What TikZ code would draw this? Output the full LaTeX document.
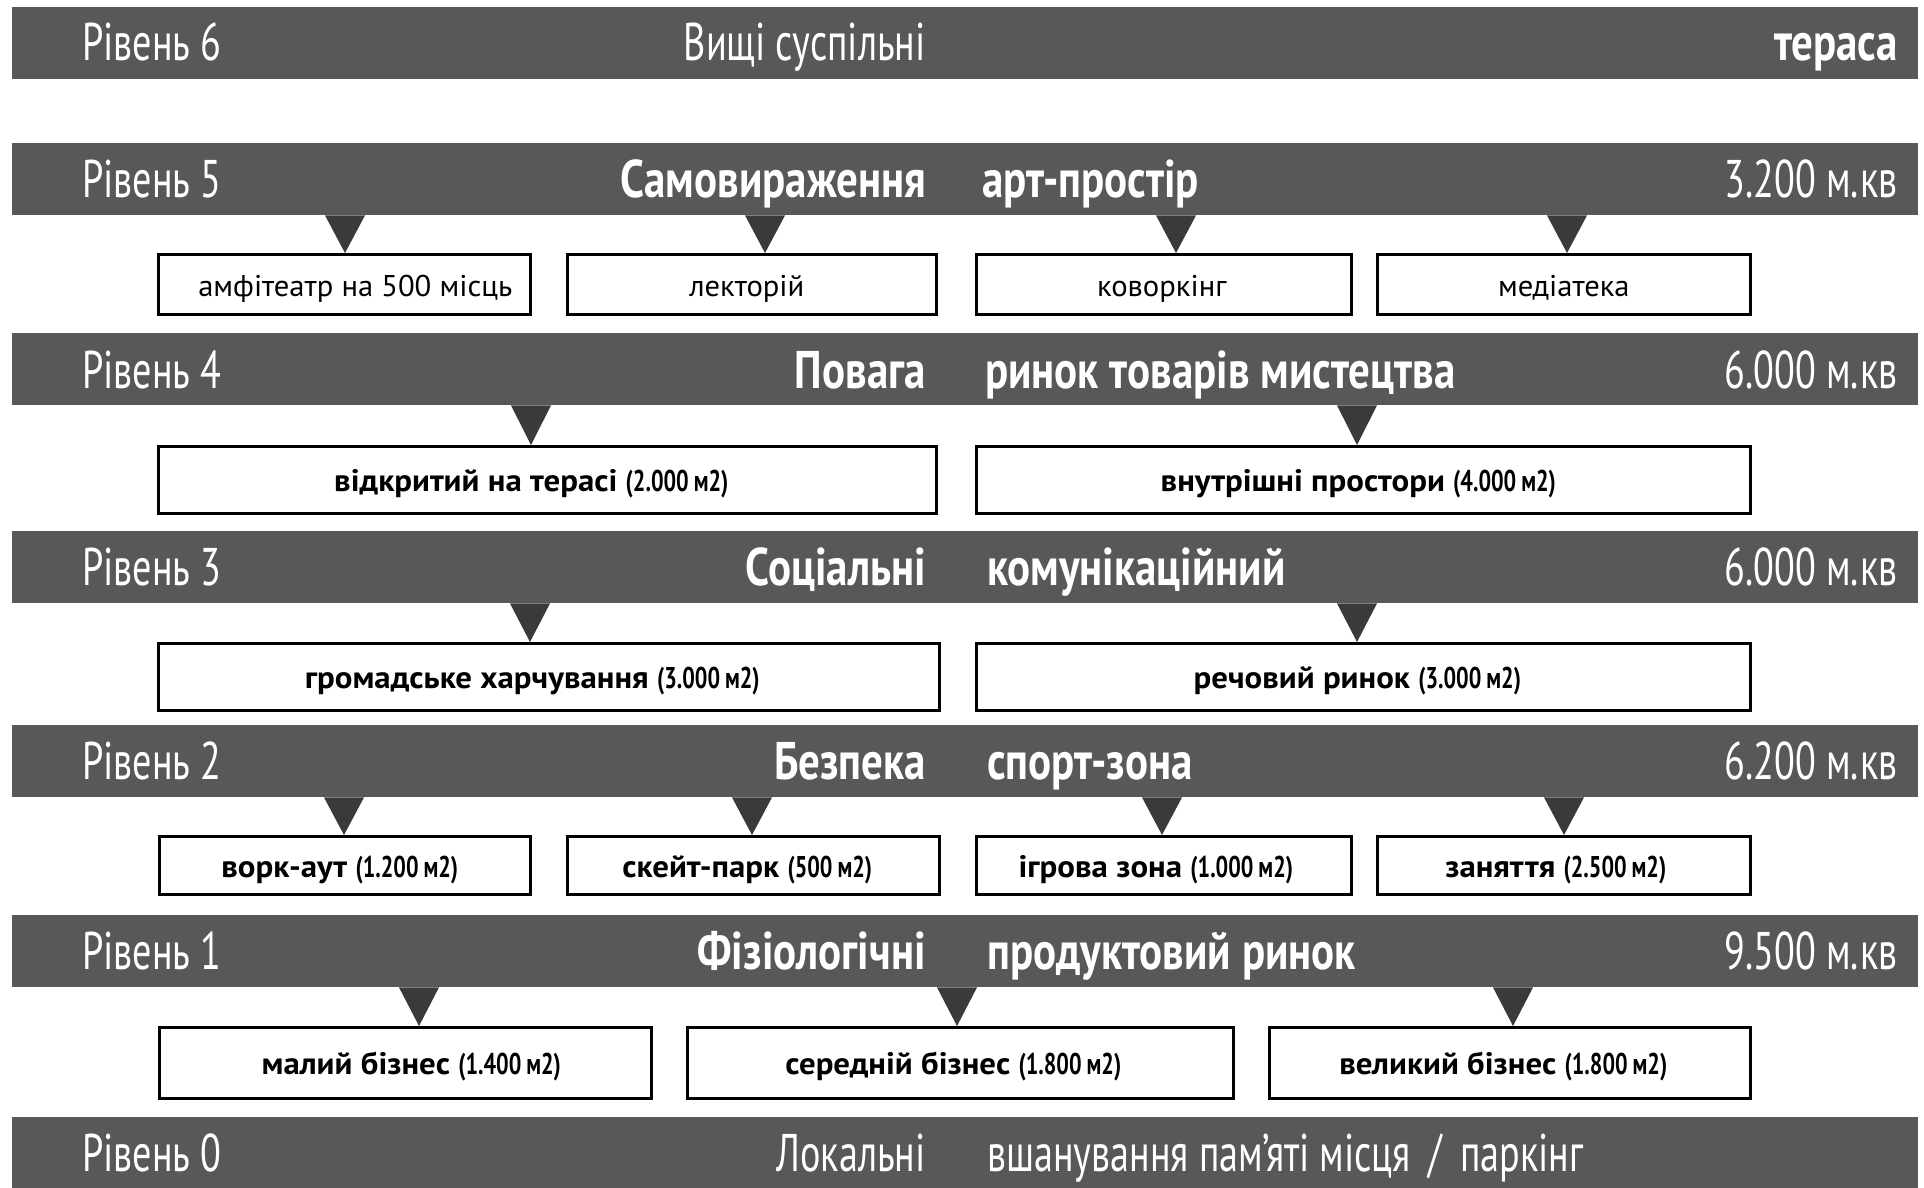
\documentclass[tikz,border=0pt]{standalone}
\usepackage{fontspec}
\setmainfont{PT Sans}
% condensed faces for the level bars and the area figures
\newfontfamily\barfont{PT Sans}[FakeStretch=0.72, BoldFeatures={FakeStretch=0.81}]
\newfontfamily\itemfont{PT Sans}[FakeStretch=1.02, BoldFeatures={FakeStretch=1.06}]
\newfontfamily\numfont{PT Sans}[FakeStretch=0.74]
\usetikzlibrary{calc}

\definecolor{bargray}{HTML}{58585A}
\definecolor{tridark}{HTML}{3A3A3C}

\tikzset{
  levelbar/.style={fill=bargray, draw=none, minimum width=1906, minimum height=72,
    inner sep=0, anchor=north west},
  bartext/.style={text=white, inner sep=0, font=\barfont\fontsize{53}{60}\selectfont},
  lvl/.style={bartext, anchor=base west},
  need/.style={bartext, anchor=base east},
  func/.style={bartext, anchor=base west},
  area/.style={bartext, anchor=base east},
  itembox/.style={draw=black, line width=2.6, fill=white, inner sep=0,
    anchor=north west, text height=30, text depth=6,
    font=\itemfont\fontsize{30}{35}\selectfont},
  boldbox/.style={itembox, font=\itemfont\fontsize{31}{36}\selectfont\bfseries},
  pointer/.style={fill=tridark, draw=none}
}

% area figure in brackets after a bold item name
\newcommand\sqm[1]{{\numfont\fontsize{30}{35}\selectfont(#1\,м2)}}

% pointer triangle from a bar down to the top of an item box
\newcommand\pointer[3]{%
  \path (#3,0) coordinate (px);
  \fill[pointer] ($(#1.south -| px)+(-20,0)$) -- ($(#1.south -| px)+(20,0)$)
    -- (#2.north -| px) -- cycle;}

\begin{document}
\begin{tikzpicture}[x=1pt, y=-1pt]
\useasboundingbox (0,0) rectangle (1924,1188);
\fill[white] (0,0) rectangle (1924,1188);

% ---------- level bars ----------
\node[levelbar] (L6) at (12,7) {};
\node[levelbar] (L5) at (12,143) {};
\node[levelbar] (L4) at (12,333) {};
\node[levelbar] (L3) at (12,531) {};
\node[levelbar] (L2) at (12,725) {};
\node[levelbar] (L1) at (12,915) {};
\node[levelbar] (L0) at (12,1117) {};

% ---------- bar texts ----------
\node[lvl] (L6a) at (82,61) {Рівень 6};
\node[need] (L6b) at (926,61) {Вищі суспільні};
\node[area] (L6d) at (1898,61) {\bfseries тераса};

\node[lvl] (L5a) at (82,197) {Рівень 5};
\node[need] (L5b) at (926,197) {\bfseries Самовираження};
\node[func] (L5c) at (982,197) {\bfseries арт-простір};
\node[area] (L5d) at (1898,197) {3.200 м.кв};

\node[lvl] (L4a) at (82,388) {Рівень 4};
\node[need] (L4b) at (926,388) {\bfseries Повага};
\node[func] (L4c) at (985,388) {\bfseries ринок товарів мистецтва};
\node[area] (L4d) at (1898,388) {6.000 м.кв};

\node[lvl] (L3a) at (82,585) {Рівень 3};
\node[need] (L3b) at (926,585) {\bfseries Соціальні};
\node[func] (L3c) at (987,585) {\bfseries комунікаційний};
\node[area] (L3d) at (1898,585) {6.000 м.кв};

\node[lvl] (L2a) at (82,779) {Рівень 2};
\node[need] (L2b) at (926,779) {\bfseries Безпека};
\node[func] (L2c) at (987,779) {\bfseries спорт-зона};
\node[area] (L2d) at (1898,779) {6.200 м.кв};

\node[lvl] (L1a) at (82,969) {Рівень 1};
\node[need] (L1b) at (926,969) {\bfseries Фізіологічні};
\node[func] (L1c) at (987,969) {\bfseries продуктовий ринок};
\node[area] (L1d) at (1898,969) {9.500 м.кв};

\node[lvl] (L0a) at (82,1171) {Рівень 0};
\node[need] (L0b) at (926,1171) {Локальні};
\node[func] (L0c) at (987,1171) {вшанування пам’яті місця\kern18pt/\kern18pt паркінг};

% ---------- level 5 items ----------
\node[itembox, minimum width=372, minimum height=60] (A1) at (157,253) {\kern22pt амфітеатр на 500 місць};
\node[itembox, minimum width=369, minimum height=60] (A2) at (566,253) {лекторій\kern10pt};
\node[itembox, minimum width=375, minimum height=60] (A3) at (975,253) {коворкінг\kern4pt};
\node[itembox, minimum width=373, minimum height=60] (A4) at (1376,253) {медіатека};

% ---------- level 4 items ----------
\node[boldbox, minimum width=778, minimum height=67] (B1) at (157,445) {відкритий на терасі \sqm{2.000}\kern32pt};
\node[boldbox, minimum width=774, minimum height=67] (B2) at (975,445) {внутрішні простори \sqm{4.000}\kern10pt};

% ---------- level 3 items ----------
\node[boldbox, minimum width=781, minimum height=67] (C1) at (157,642) {громадське харчування \sqm{3.000}\kern33pt};
\node[boldbox, minimum width=774, minimum height=67] (C2) at (975,642) {речовий ринок \sqm{3.000}\kern12pt};

% ---------- level 2 items ----------
\node[boldbox, minimum width=371, minimum height=58] (D1) at (158,835) {ворк-аут \sqm{1.200}\kern10pt};
\node[boldbox, minimum width=372, minimum height=58] (D2) at (566,835) {скейт-парк \sqm{500}\kern12pt};
\node[boldbox, minimum width=375, minimum height=58] (D3) at (975,835) {ігрова зона \sqm{1.000}\kern16pt};
\node[boldbox, minimum width=373, minimum height=58] (D4) at (1376,835) {заняття \sqm{2.500}\kern16pt};

% ---------- level 1 items ----------
\node[boldbox, minimum width=492, minimum height=71] (E1) at (158,1026) {\kern12pt малий бізнес \sqm{1.400}};
\node[boldbox, minimum width=546, minimum height=71] (E2) at (686,1026) {середній бізнес \sqm{1.800}\kern14pt};
\node[boldbox, minimum width=481, minimum height=71] (E3) at (1268,1026) {великий бізнес \sqm{1.800}\kern13pt};

% ---------- pointers ----------
\pointer{L5}{A1}{345}
\pointer{L5}{A2}{765}
\pointer{L5}{A3}{1176}
\pointer{L5}{A4}{1567}
\pointer{L4}{B1}{531}
\pointer{L4}{B2}{1357}
\pointer{L3}{C1}{530}
\pointer{L3}{C2}{1357}
\pointer{L2}{D1}{344}
\pointer{L2}{D2}{752}
\pointer{L2}{D3}{1162}
\pointer{L2}{D4}{1564}
\pointer{L1}{E1}{419}
\pointer{L1}{E2}{957}
\pointer{L1}{E3}{1513}
\end{tikzpicture}
\end{document}
